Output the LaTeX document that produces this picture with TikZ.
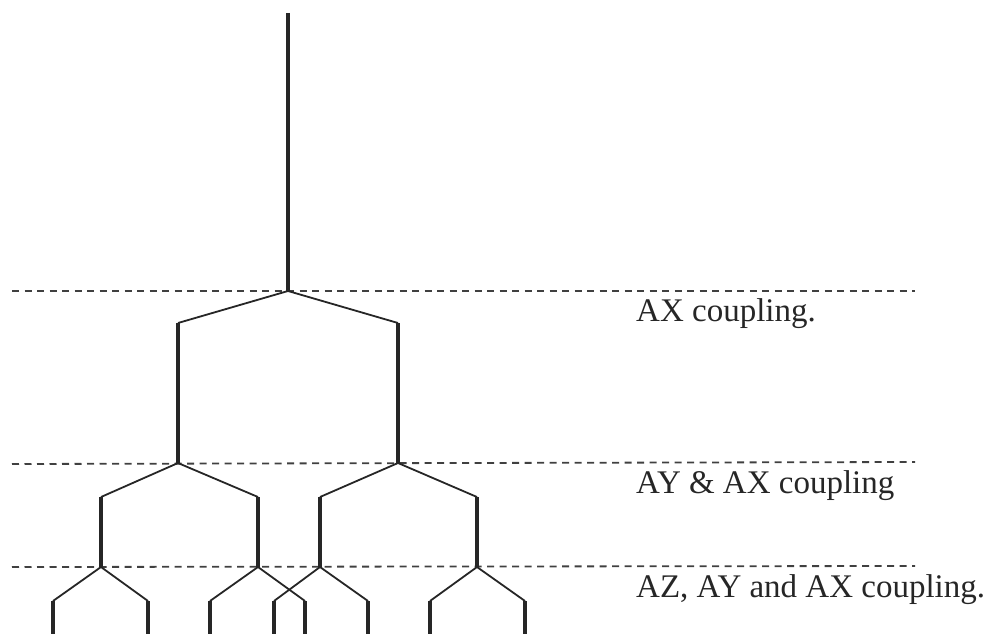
\documentclass[tikz,border=0pt]{standalone}
\usepackage{fontspec}
\setmainfont{Liberation Serif}
\begin{document}
\begin{tikzpicture}[x=1pt,y=-1pt,
  stem/.style={line width=4pt,draw=black!85},
  arm/.style={line width=1.8pt,draw=black!85},
  level/.style={line width=1.8pt,draw=black!75,dash pattern=on 7pt off 5.5pt},
  lab/.style={anchor=base west,inner sep=0pt,font=\fontsize{33}{36}\selectfont,text=black!85}]
\useasboundingbox (0,0) rectangle (995,634);
% level lines
\coordinate (l1a) at (12,291); \coordinate (l1b) at (915,291);
\coordinate (l2a) at (12,464); \coordinate (l2b) at (915,462);
\coordinate (l3a) at (12,567); \coordinate (l3b) at (915,566);
\draw[level] (l1a) -- (l1b);
\draw[level] (l2a) -- (l2b);
\draw[level] (l3a) -- (l3b);
% labels
\node[lab] (t1) at (636,321) {AX coupling.};
\node[lab] (t2) at (636,493) {AY \& AX coupling};
\node[lab] (t3) at (636,597) {AZ, AY and AX coupling.};
% tree coordinates
\coordinate (r) at (288,13); \coordinate (n0) at (288,291);
\coordinate (a1) at (178,323); \coordinate (a1e) at (178,463);
\coordinate (a2) at (398,323); \coordinate (a2e) at (398,463);
\coordinate (b1) at (101,497); \coordinate (b1e) at (101,567);
\coordinate (b2) at (258,497); \coordinate (b2e) at (258,567);
\coordinate (b3) at (320,497); \coordinate (b3e) at (320,567);
\coordinate (b4) at (477,497); \coordinate (b4e) at (477,567);
\coordinate (c1) at (53,601); \coordinate (c1e) at (53,634);
\coordinate (c2) at (148,601); \coordinate (c2e) at (148,634);
\coordinate (c3) at (210,601); \coordinate (c3e) at (210,634);
\coordinate (c4) at (305,601); \coordinate (c4e) at (305,634);
\coordinate (c5) at (274,601); \coordinate (c5e) at (274,634);
\coordinate (c6) at (368,601); \coordinate (c6e) at (368,634);
\coordinate (c7) at (430,601); \coordinate (c7e) at (430,634);
\coordinate (c8) at (525,601); \coordinate (c8e) at (525,634);
% stems
\draw[stem] (r) -- (n0);
\draw[stem] (a1) -- (a1e);
\draw[stem] (a2) -- (a2e);
\draw[stem] (b1) -- (b1e);
\draw[stem] (b2) -- (b2e);
\draw[stem] (b3) -- (b3e);
\draw[stem] (b4) -- (b4e);
\foreach \c in {c1,c2,c3,c4,c5,c6,c7,c8} {\draw[stem] (\c) -- (\c e);}
% arms
\draw[arm] (a1) -- (n0) -- (a2);
\draw[arm] (b1) -- (a1e) -- (b2);
\draw[arm] (b3) -- (a2e) -- (b4);
\draw[arm] (c1) -- (b1e) -- (c2);
\draw[arm] (c3) -- (b2e) -- (c4);
\draw[arm] (c5) -- (b3e) -- (c6);
\draw[arm] (c7) -- (b4e) -- (c8);
\end{tikzpicture}
\end{document}
